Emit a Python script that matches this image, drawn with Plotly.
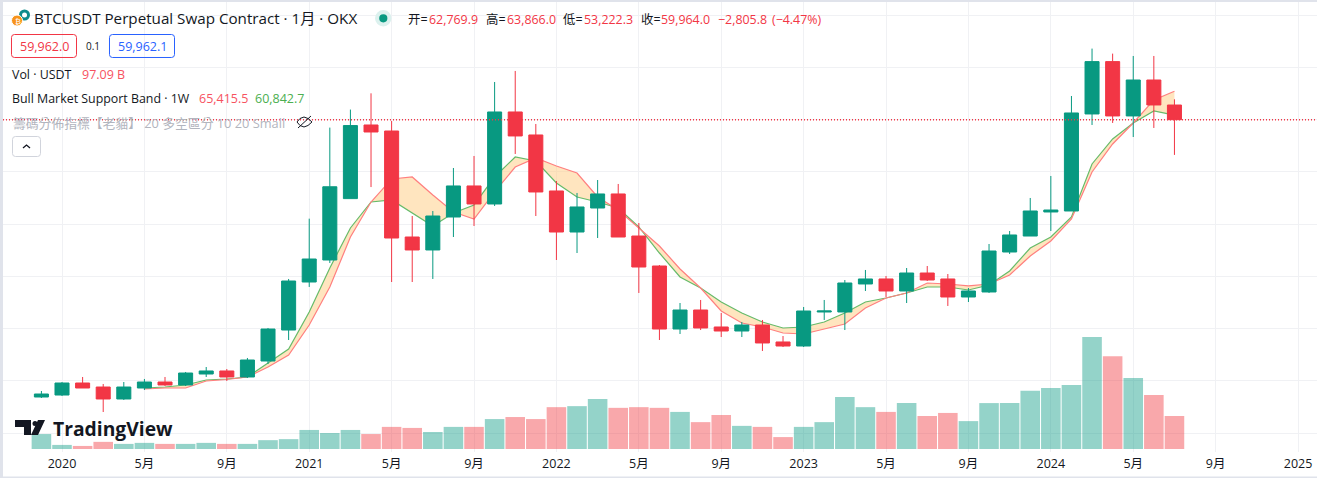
import plotly.graph_objects as go

# monthly bars, 2019-12 to 2024-07, bar 0 = 2020-01
bar_index = list(range(-1, 55))
opens = [6890, 7270, 9570, 8800, 6510, 8610, 9760, 9190, 11290, 11870, 10720, 13780, 19710, 28900, 33110, 44860,
         58950, 57800, 37510, 35030, 41340, 47280, 43830, 61440, 57040, 46320, 38470, 43060, 45750, 37700, 31960,
         19900, 23540, 20290, 19520, 20670, 17420, 16650, 23160, 23160, 28520, 29480, 27180, 30620, 29480, 26030,
         26990, 34640, 37700, 42300, 42490, 61060, 71080, 60680, 67560, 62769.9]
highs = [8040, 9760, 10720, 9380, 9760, 10340, 10720, 11680, 12630, 12250, 14360, 20100, 29480, 41020, 58450, 61900,
         65010, 59720, 41530, 42490, 50720, 53020, 67180, 69290, 59140, 48230, 45940, 48420, 47660, 40190, 32150,
         24880, 25460, 22970, 21250, 21630, 18560, 24120, 25460, 29280, 31200, 30050, 31580, 31960, 30430, 27750,
         36170, 38660, 44980, 49190, 64500, 73570, 72610, 72160, 72160, 63866.0]
lows = [6700, 7080, 8610, 4020, 6320, 8230, 9000, 9000, 10720, 9950, 10530, 13200, 17800, 27950, 32540, 44860,
        47070, 28900, 28900, 29480, 37510, 39620, 43450, 53400, 41530, 33110, 34450, 37320, 37510, 26800, 17800,
        18950, 19710, 18370, 18370, 15700, 16460, 16460, 21630, 19710, 27180, 26030, 24880, 29090, 24310, 25070,
        26800, 34260, 37700, 38660, 42490, 58950, 59340, 56650, 58380, 53222.3]
closes = [7465, 9570, 8610, 6510, 8800, 9760, 9190, 11480, 11870, 10720, 13970, 19900, 29090, 33300, 47130, 58840,
          57610, 37320, 35030, 41530, 47280, 43830, 61440, 56850, 46130, 38470, 43260, 45750, 37510, 31770, 19900,
          23540, 20100, 19520, 20670, 17230, 16650, 23350, 23350, 28710, 29480, 27180, 30620, 29280, 26030, 27180,
          34830, 37900, 42490, 42680, 61250, 71080, 60680, 67560, 62780, 59964.0]
volumes_b = [44, 12, 9, 21, 15, 18, 15, 15, 18, 15, 15, 26, 29, 56, 47, 56, 44, 65, 62, 50, 65, 65, 88, 94, 88, 123,
             126, 147, 121, 123, 121, 109, 79, 100, 68, 65, 35, 65, 79, 153, 123, 109, 135, 97, 106, 82, 135, 135,
             171, 179, 188, 329, 273, 209, 159, 97.09]

# Bull Market Support Band starts at 2020-05
band_index = list(range(4, 55))
band_sma = [8420, 8610, 8610, 9950, 10240, 10720, 12630, 14930, 20670, 27940, 37510, 44210, 48620, 49000, 45550,
            42300, 40960, 46130, 50910, 52640, 51100, 49760, 45170, 42680, 39240, 35790, 31390, 27750, 23350, 21050,
            20290, 19140, 18950, 19910, 20860, 23930, 25840, 26800, 28710, 28520, 28140, 28520, 30240, 33880, 36750,
            40960, 49960, 55310, 59330, 63740, 65415.5]
band_ema = [8610, 8800, 9190, 10140, 10340, 10720, 13400, 16080, 23160, 31580, 39240, 44210, 44600, 42110, 39620,
            42110, 43640, 49000, 52830, 52060, 47850, 45170, 44210, 43070, 39430, 34450, 29860, 27750, 25070, 22970,
            21250, 20100, 20290, 21250, 22970, 25070, 25840, 26800, 27940, 27940, 27370, 28330, 31010, 35410, 37510,
            41340, 51490, 56270, 59330, 61630, 60842.7]

tick_vals = [0, 4, 8, 12, 16, 20, 24, 28, 32, 36, 40, 44, 48, 52, 56, 60]
tick_labels = ['2020', '5月', '9月', '2021', '5月', '9月', '2022', '5月', '9月', '2023', '5月', '9月', '2024', '5月', '9月', '2025']
price_grid = [0, 10000, 20000, 30000, 40000, 50000, 60000, 70000, 80000]

GREEN = '#089981'
RED = '#F23645'
SOFT_RED = '#F7525F'
TEXT = '#131722'
GREY = '#B2B5BE'
FONT = 'Open Sans, Noto Sans CJK TC, sans-serif'

W, H = 1317, 478
PLOT_H = 452


def px_x(x):
    return x / W


def px_y(y):
    return 1 - y / PLOT_H


def path(points, close=True):
    # pixel points -> svg path in paper coords
    s = 'M' + ' L'.join(f'{px_x(x):.5f},{px_y(y):.5f}' for x, y in points)
    return s + (' Z' if close else '')


def rounded(x0, y0, x1, y1, r=3):
    a, b, c, d = px_x(x0), px_y(y0), px_x(x1), px_y(y1)
    rx, ry = r / W, r / PLOT_H
    return (f'M{a + rx:.5f},{b:.5f} L{c - rx:.5f},{b:.5f} Q{c:.5f},{b:.5f} {c:.5f},{b - ry:.5f} '
            f'L{c:.5f},{d + ry:.5f} Q{c:.5f},{d:.5f} {c - rx:.5f},{d:.5f} L{a + rx:.5f},{d:.5f} '
            f'Q{a:.5f},{d:.5f} {a:.5f},{d + ry:.5f} L{a:.5f},{b - ry:.5f} Q{a:.5f},{b:.5f} {a + rx:.5f},{b:.5f} Z')


vol_colors = ['rgba(8,153,129,0.43)' if c >= o else 'rgba(242,54,60,0.43)' for o, c in zip(opens, closes)]

fig = go.Figure()
fig.add_trace(go.Scatter(x=band_index, y=band_ema, mode='lines', line=dict(color='#66BB6A', width=1.2), hoverinfo='skip'))
fig.add_trace(go.Scatter(x=band_index, y=band_sma, mode='lines', line=dict(color='#FF7F7F', width=1.2),
                         fill='tonexty', fillcolor='rgba(255,204,128,0.5)', hoverinfo='skip'))
fig.add_trace(go.Bar(x=bar_index, y=volumes_b, marker=dict(color=vol_colors, line=dict(width=0)), yaxis='y2'))
fig.add_trace(go.Candlestick(x=bar_index, open=opens, high=highs, low=lows, close=closes, yaxis='y3',
                             increasing=dict(line=dict(color=GREEN, width=1), fillcolor=GREEN),
                             decreasing=dict(line=dict(color=RED, width=1), fillcolor=RED),
                             whiskerwidth=0))

shapes = [
    # window edge
    dict(type='rect', xref='paper', yref='paper', x0=0, x1=px_x(3), y0=px_y(H), y1=px_y(0), fillcolor='#E0E3EB', line_width=0),
    dict(type='rect', xref='paper', yref='paper', x0=0, x1=1, y0=px_y(2), y1=px_y(0), fillcolor='#E0E3EB', line_width=0),
    dict(type='rect', xref='paper', yref='paper', x0=0, x1=1, y0=px_y(H), y1=px_y(476.5), fillcolor='#E0E3EB', line_width=0),
    # last price line
    dict(type='line', xref='paper', yref='y3', x0=px_x(3), x1=1, y0=closes[-1], y1=closes[-1],
         line=dict(color=RED, width=1.4, dash='1px,2px')),
    # symbol icons
    dict(type='circle', xref='paper', yref='paper', x0=px_x(19), x1=px_x(30), y0=px_y(20.5), y1=px_y(9.5), fillcolor='#0E8C8C', line_width=0),
    dict(type='circle', xref='paper', yref='paper', x0=px_x(22), x1=px_x(27), y0=px_y(17.5), y1=px_y(12.5), fillcolor='white', line_width=0),
    dict(type='circle', xref='paper', yref='paper', x0=px_x(11.5), x1=px_x(22.5), y0=px_y(26), y1=px_y(15), fillcolor='#F7931A', line=dict(color='white', width=1)),
    dict(type='circle', xref='paper', yref='paper', x0=px_x(375), x1=px_x(391.5), y0=px_y(26.5), y1=px_y(10), fillcolor='#DCF1EE', line_width=0),
    dict(type='circle', xref='paper', yref='paper', x0=px_x(379.2), x1=px_x(387.4), y0=px_y(22.4), y1=px_y(14.2), fillcolor=GREEN, line_width=0),
    # bid / ask boxes
    dict(type='path', xref='paper', yref='paper', path=rounded(11.5, 34.5, 76.5, 57.5), line=dict(color=RED, width=1)),
    dict(type='path', xref='paper', yref='paper', path=rounded(109.5, 34.5, 174.5, 57.5), line=dict(color='#2962FF', width=1)),
    # collapse button
    dict(type='path', xref='paper', yref='paper', path=rounded(12.5, 136.5, 40.5, 156.5), line=dict(color='#D1D4DC', width=1)),
    dict(type='path', xref='paper', yref='paper', path=path([(23, 148), (26.5, 145), (30, 148)], close=False), line=dict(color=TEXT, width=1.3)),
    # hidden eye
    dict(type='path', xref='paper', yref='paper', line=dict(color=TEXT, width=1),
         path=path([(297, 122), (300, 118.5), (304, 117), (308, 118.5), (312, 122), (308, 125.5), (304, 127), (300, 125.5)])),
    dict(type='path', xref='paper', yref='paper', path=path([(298, 128), (311, 116)], close=False), line=dict(color=TEXT, width=1)),
    # TradingView mark
    dict(type='path', xref='paper', yref='paper', fillcolor=TEXT, line_width=0,
         path=path([(15, 420), (31, 420), (31, 435), (24, 435), (24, 427), (15, 427)])),
    dict(type='circle', xref='paper', yref='paper', x0=px_x(32.5), x1=px_x(37.5), y0=px_y(426), y1=px_y(421), fillcolor=TEXT, line_width=0),
    dict(type='path', xref='paper', yref='paper', fillcolor=TEXT, line_width=0,
         path=path([(38, 420), (45, 420), (38, 435), (31, 435)])),
]

ann_list = [
    (33, 18, 'BTCUSDT Perpetual Swap Contract · 1月 · OKX', TEXT, 15.2),
    (407, 19, '开=', TEXT, 12.4), (428, 19, '62,769.9', RED, 12.4),
    (485, 19, '高=', TEXT, 12.4), (506, 19, '63,866.0', RED, 12.4),
    (562, 19, '低=', TEXT, 12.4), (583, 19, '53,222.3', RED, 12.4),
    (640, 19, '收=', TEXT, 12.4), (660, 19, '59,964.0', RED, 12.4),
    (717, 19, '−2,805.8', RED, 12.4), (771, 19, '(−4.47%)', RED, 12.4),
    (18.5, 46, '59,962.0', RED, 12.5), (85, 46, '0.1', TEXT, 10), (116.5, 46, '59,962.1', '#2962FF', 12.5),
    (11, 75, 'Vol · USDT', TEXT, 12.4), (81, 75, '97.09 B', SOFT_RED, 12.5),
    (11, 98, 'Bull Market Support Band · 1W', TEXT, 12.4), (198, 98, '65,415.5', SOFT_RED, 12.5), (254, 98, '60,842.7', '#4CAF50', 12.5),
    (11.5, 123, '籌碼分佈指標【老貓】 20 多空區分 10 20 Small', GREY, 12.8),
    (14, 20.5, '₿', 'white', 8),
    (52, 428, '<b>TradingView</b>', TEXT, 19.3),
]
annotations = [dict(xref='paper', yref='paper', x=px_x(x), y=px_y(y), text=t, showarrow=False, xanchor='left', yanchor='middle',
                    borderpad=0, font=dict(color=c, size=s, family=FONT)) for x, y, t, c, s in ann_list]

fig.update_layout(
    width=W, height=H,
    margin=dict(l=0, r=0, t=0, b=H - PLOT_H),
    paper_bgcolor='white', plot_bgcolor='white',
    showlegend=False,
    bargap=0.05, boxgap=0.027,
    font=dict(family=FONT, color=TEXT, size=12),
    xaxis=dict(range=[-3.01, 60.92], tickmode='array', tickvals=tick_vals, ticktext=tick_labels, ticks='', showline=False,
               gridcolor='#F0F1F4', gridwidth=1, zeroline=False, rangeslider=dict(visible=False), fixedrange=True,
               tickfont=dict(size=12.5, color=TEXT), ticklabelstandoff=2),
    yaxis=dict(range=[-3636, 82871], tickvals=price_grid, showticklabels=False, gridcolor='#F0F1F4', gridwidth=1, zeroline=False, fixedrange=True),
    yaxis2=dict(range=[-8.82, 1320], overlaying='y', showgrid=False, showticklabels=False, zeroline=False, fixedrange=True),
    yaxis3=dict(range=[-3636, 82871], overlaying='y', showgrid=False, showticklabels=False, zeroline=False, fixedrange=True),
    shapes=shapes,
    annotations=annotations,
)

fig.write_html("out.html", config={'displayModeBar': False},
               post_script="document.body.style.margin='0';document.body.style.overflow='hidden';")
